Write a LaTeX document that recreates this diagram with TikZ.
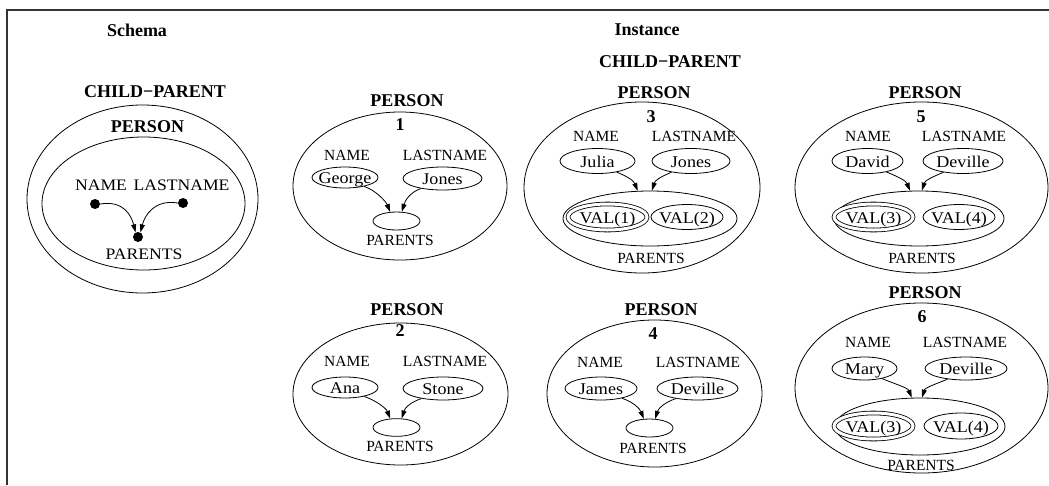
\documentclass[tikz,border=0pt]{standalone}
\usepackage{fontspec}
\setmainfont{Liberation Serif}
\newfontfamily\widefont[FakeStretch=1.1]{Liberation Serif}
\usetikzlibrary{shapes.geometric,arrows.meta}

\tikzset{
  title/.style={font=\fontsize{18}{20}\selectfont\bfseries, inner sep=0},
  lbl/.style={font=\fontsize{15.5}{17}\selectfont, inner sep=0},
  slbl/.style={font=\widefont\fontsize{16}{18}\selectfont, inner sep=0},
  sz/.style 2 args={minimum width=#1, minimum height=#2},
  shell/.style={draw, ellipse, inner sep=0, line width=0.8},
  val/.style={draw, ellipse, inner sep=0, line width=0.8,
    font=\widefont\fontsize{16.4}{18}\selectfont, text height=12.5, text depth=0},
  dval/.style={val, double, double distance=3},
  arr/.style={-{Triangle[length=8,width=5]}, line width=0.8},
  dot/.style={circle, fill, inner sep=0, minimum size=10},
}
% text inside a value ellipse: zero width so the ellipse keeps its set size
\newcommand{\valtext}[1]{\makebox[0pt]{#1}}

\begin{document}
\begin{tikzpicture}[x=1pt, y=-1pt]
\useasboundingbox (0,0) rectangle (1049,485);

% frame
\draw[line width=1.5, black!80] (7,485) -- (7,10) -- (1049,10);

% ---------------- schema ----------------
\node[title] (schema) at (137,30) {Schema};
\node[title] (scp) at (155,92) {CHILD−PARENT};
\node[shell, sz={231}{188}] (souter) at (142.5,199) {};
\node[title] (sperson) at (147.5,127) {PERSON};
\node[shell, sz={203}{133}] (sinner) at (143.5,203.5) {};
\node[slbl] (sname) at (101,185) {NAME};
\node[slbl] (slast) at (181.5,185) {LASTNAME};
\node[dot] (sd1) at (95,204) {};
\node[dot] (sd2) at (183,203) {};
\node[dot] (sd3) at (138,237) {};
\node[slbl] (spar) at (144,254) {PARENTS};
\draw[arr] (sd1.east) .. controls +(24,-4) and +(-4,-16) .. (sd3.118);
\draw[arr] (sd2.west) .. controls +(-24,-4) and +(4,-16) .. (sd3.62);

% ---------------- instance ----------------
\node[title] (inst) at (647,30) {Instance};
\node[title] (icp) at (670,62) {CHILD−PARENT};

% person 1
\node[title] (t1) at (407,101) {PERSON};
\node[title] (k1) at (400,125) {1};
\node[shell, sz={214}{148}] (o1) at (400,186) {};
\node[lbl] (na1) at (347,155) {NAME};
\node[lbl] (la1) at (445,155) {LASTNAME};
\node[val, sz={66}{21}] (n1) at (345,177.5) {\valtext{George}};
\node[val, sz={79}{23}] (l1) at (442.5,178.5) {\valtext{Jones}};
\node[val, sz={47}{18}] (p1) at (396.5,221) {};
\node[lbl] (pl1) at (400,240) {PARENTS};
\draw[arr] (n1.-25) .. controls +(12,4) and +(-4,-10) .. (p1.125);
\draw[arr] (l1.-155) .. controls +(-12,4) and +(3,-10) .. (p1.60);

% person 2
\node[title] (t2) at (407,310) {PERSON};
\node[title] (k2) at (400,331) {2};
\node[shell, sz={215}{142}] (o2) at (400.5,394) {};
\node[lbl] (na2) at (347,361) {NAME};
\node[lbl] (la2) at (445,361) {LASTNAME};
\node[val, sz={66}{21}] (n2) at (345,387.5) {\valtext{Ana}};
\node[val, sz={80}{23}] (l2) at (443,388.5) {\valtext{Stone}};
\node[val, sz={47}{17}] (p2) at (396.5,427.5) {};
\node[lbl] (pl2) at (400,446) {PARENTS};
\draw[arr] (n2.-25) .. controls +(12,4) and +(-4,-10) .. (p2.125);
\draw[arr] (l2.-155) .. controls +(-12,4) and +(3,-10) .. (p2.60);

% person 3
\node[title] (t3) at (654,93) {PERSON};
\node[title] (k3) at (651,117) {3};
\node[shell, sz={236}{171}] (o3) at (642,187.5) {};
\node[lbl] (na3) at (596,136) {NAME};
\node[lbl] (la3) at (694,136) {LASTNAME};
\node[val, sz={75}{25}] (n3) at (597.5,161) {\valtext{Julia}};
\node[val, sz={78}{25}] (l3) at (691,161) {\valtext{Jones}};
\node[shell, sz={174}{55}] (p3) at (650,218.5) {};
\node[dval, sz={79}{26}] (v31) at (607.5,217) {\valtext{VAL(1)}};
\node[val, sz={72}{25}] (v32) at (687,217) {\valtext{VAL(2)}};
\node[lbl] (pl3) at (651,258) {PARENTS};
\draw[arr] (n3.-30) .. controls +(12,5) and +(-4,-10) .. (p3.114);
\draw[arr] (l3.-150) .. controls +(-12,5) and +(3,-10) .. (p3.86);

% person 4
\node[title] (t4) at (661,310) {PERSON};
\node[title] (k4) at (653,334) {4};
\node[shell, sz={215}{147}] (o4) at (654.5,393.5) {};
\node[lbl] (na4) at (600,362) {NAME};
\node[lbl] (la4) at (698,362) {LASTNAME};
\node[val, sz={72}{23}] (n4) at (601,388.5) {\valtext{James}};
\node[val, sz={81}{23}] (l4) at (697.5,388.5) {\valtext{Deville}};
\node[val, sz={47}{18}] (p4) at (649.5,428) {};
\node[lbl] (pl4) at (653,448) {PARENTS};
\draw[arr] (n4.-25) .. controls +(12,4) and +(-4,-10) .. (p4.122);
\draw[arr] (l4.-155) .. controls +(-12,4) and +(3,-10) .. (p4.58);

% person 5
\node[title] (t5) at (925,93) {PERSON};
\node[title] (k5) at (921,117) {5};
\node[shell, sz={253}{171}] (o5) at (921.5,187.5) {};
\node[lbl] (na5) at (868,136) {NAME};
\node[lbl] (la5) at (964,136) {LASTNAME};
\node[val, sz={71}{25}] (n5) at (867.5,161) {\valtext{David}};
\node[val, sz={80}{25}] (l5) at (963,161) {\valtext{Deville}};
\node[shell, sz={170}{55}] (p5) at (919,218.5) {};
\node[dval, sz={79}{26}] (v51) at (873.5,217) {\valtext{VAL(3)}};
\node[val, sz={72}{25}] (v52) at (959,217) {\valtext{VAL(4)}};
\node[lbl] (pl5) at (922,258) {PARENTS};
\draw[arr] (n5.-30) .. controls +(12,5) and +(-4,-10) .. (p5.108);
\draw[arr] (l5.-150) .. controls +(-12,5) and +(3,-10) .. (p5.84);

% person 6
\node[title] (t6) at (925,293) {PERSON};
\node[title] (k6) at (922,317) {6};
\node[shell, sz={253}{170}] (o6) at (921.5,388) {};
\node[lbl] (na6) at (868,342) {NAME};
\node[lbl] (la6) at (965,342) {LASTNAME};
\node[val, sz={65}{23}] (n6) at (864.5,368.5) {\valtext{Mary}};
\node[val, sz={82}{23}] (l6) at (966,368.5) {\valtext{Deville}};
\node[shell, sz={170}{57}] (p6) at (920,426.5) {};
\node[dval, sz={79}{26}] (v61) at (873.5,426) {\valtext{VAL(3)}};
\node[val, sz={74}{26}] (v62) at (961,426) {\valtext{VAL(4)}};
\node[lbl] (pl6) at (921,465) {PARENTS};
\draw[arr] (n6.-30) .. controls +(12,5) and +(-4,-10) .. (p6.106);
\draw[arr] (l6.-150) .. controls +(-12,5) and +(3,-10) .. (p6.86);
\end{tikzpicture}
\end{document}
